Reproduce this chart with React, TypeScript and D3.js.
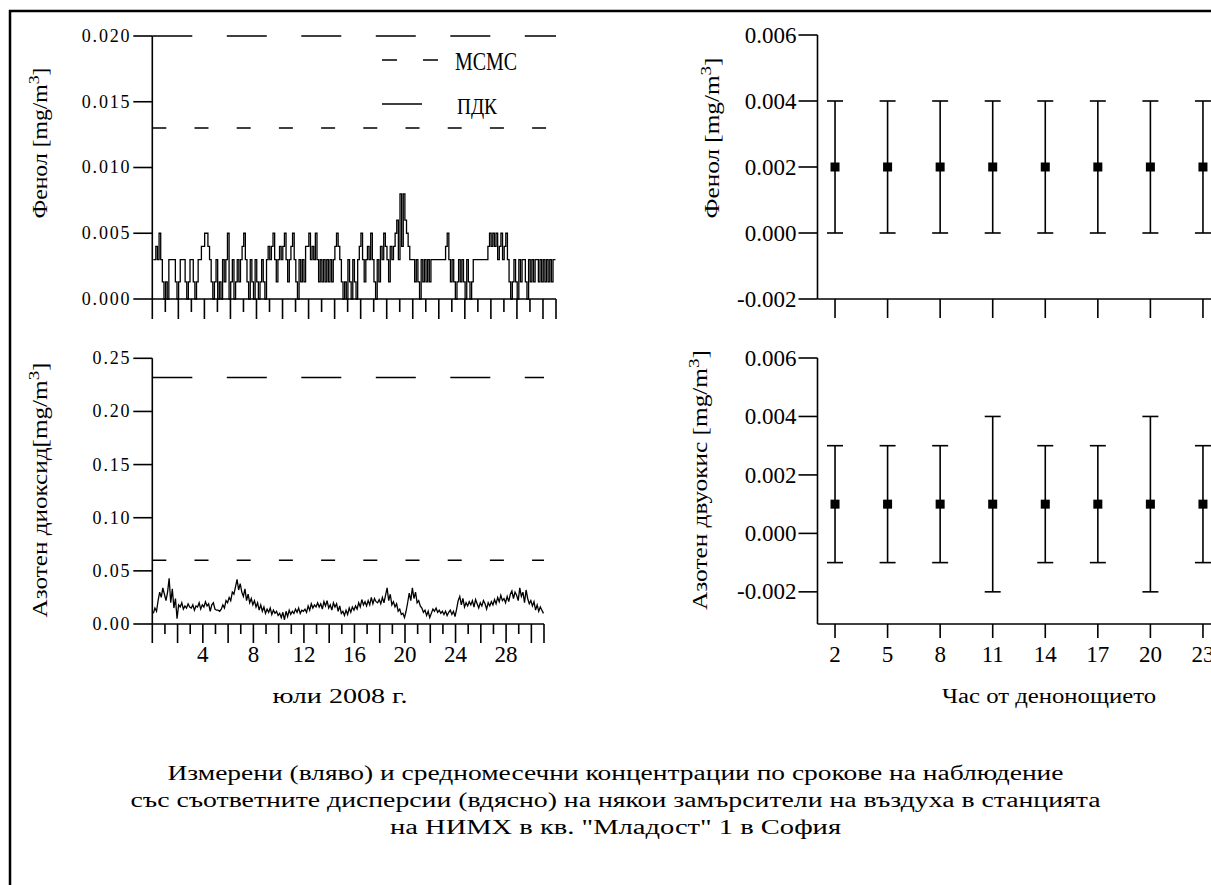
import React from 'react';
import * as d3 from 'd3';

// сроковете на наблюдение (часове)
const obsHours = [2, 5, 8, 11, 14, 17, 20, 23];

// Фенол, юли 2008, mg/m3 - по ред на ден, 8 срока
const phenolJuly = [
  [0.003, 0.003, 0.004, 0.003, 0.005, 0.003, 0.0013, 0],
  [0.0013, 0, 0.003, 0.003, 0.003, 0.003, 0.0013, 0],
  [0.0013, 0.003, 0.003, 0.003, 0.0013, 0, 0.0013, 0.003],
  [0.003, 0.0013, 0, 0.0013, 0.003, 0.003, 0.004, 0.004],
  [0.005, 0.005, 0.004, 0.003, 0.0013, 0, 0.0013, 0.003],
  [0, 0.0013, 0, 0.003, 0.0013, 0.003, 0.005, 0],
  [0.0013, 0.003, 0, 0.0013, 0.003, 0.0013, 0.003, 0.004],
  [0.005, 0.003, 0.0013, 0, 0.003, 0.0013, 0, 0.003],
  [0.0013, 0, 0.0013, 0.003, 0.0013, 0, 0.003, 0.004],
  [0.003, 0.004, 0.005, 0.003, 0.0013, 0.003, 0.004, 0.003],
  [0.004, 0.005, 0.003, 0.0013, 0.003, 0.004, 0.005, 0.003],
  [0.0013, 0, 0.003, 0.0013, 0.003, 0.0013, 0.004, 0.004],
  [0.005, 0.003, 0.004, 0.003, 0.005, 0.003, 0.0013, 0.003],
  [0.0013, 0.003, 0.0013, 0.003, 0.0013, 0.003, 0.0013, 0.003],
  [0.004, 0.005, 0.004, 0.003, 0.0013, 0, 0.0013, 0],
  [0.003, 0.0013, 0, 0.003, 0.0013, 0, 0.003, 0.004],
  [0.005, 0.003, 0.0013, 0.003, 0.004, 0.003, 0.005, 0.003],
  [0.0013, 0, 0.003, 0.0013, 0.004, 0.003, 0.005, 0.004],
  [0.003, 0.0013, 0.004, 0.003, 0.004, 0.005, 0.006, 0.003],
  [0.008, 0.004, 0.008, 0.006, 0.005, 0.004, 0.003, 0.003],
  [0.003, 0.0013, 0.003, 0.0013, 0, 0.003, 0.0013, 0.003],
  [0.0013, 0.003, 0.0013, 0.003, 0.003, 0.003, 0.003, 0.003],
  [0.003, 0.003, 0.003, 0.003, 0.004, 0.005, 0.003, 0.0013],
  [0.003, 0.0013, 0, 0.0013, 0.003, 0.0013, 0.003, 0.0013],
  [0, 0.003, 0.0013, 0, 0.0013, 0.003, 0.003, 0.003],
  [0.003, 0.003, 0.003, 0.003, 0.003, 0.003, 0.004, 0.005],
  [0.004, 0.005, 0.004, 0.005, 0.003, 0.004, 0.005, 0.003],
  [0.004, 0.005, 0.003, 0.0013, 0, 0.0013, 0.003, 0.0013],
  [0, 0.003, 0.0013, 0.003, 0.003, 0.0013, 0, 0.003],
  [0.0013, 0.003, 0.0013, 0.003, 0.003, 0.0013, 0.003, 0.0013],
  [0.003, 0.0013, 0.003, 0.0013, 0.003, 0.0013, 0.003, 0.003],
];

// Азотен диоксид, юли 2008, mg/m3
const no2July = [
  [0.010, 0.015, 0.012, 0.022, 0.030, 0.025, 0.034, 0.028],
  [0.022, 0.030, 0.043, 0.020, 0.033, 0.015, 0.024, 0.005],
  [0.018, 0.016, 0.020, 0.014, 0.017, 0.015, 0.019, 0.016],
  [0.015, 0.018, 0.013, 0.017, 0.016, 0.020, 0.014, 0.018],
  [0.016, 0.021, 0.017, 0.019, 0.012, 0.018, 0.020, 0.014],
  [0.013, 0.013, 0.012, 0.014, 0.018, 0.015, 0.022, 0.020],
  [0.025, 0.022, 0.030, 0.028, 0.035, 0.042, 0.032, 0.038],
  [0.030, 0.026, 0.033, 0.022, 0.028, 0.020, 0.024, 0.018],
  [0.022, 0.016, 0.020, 0.013, 0.018, 0.012, 0.016, 0.010],
  [0.014, 0.011, 0.015, 0.009, 0.013, 0.010, 0.012, 0.008],
  [0.010, 0.006, 0.011, 0.004, 0.012, 0.007, 0.013, 0.009],
  [0.012, 0.010, 0.014, 0.011, 0.015, 0.010, 0.013, 0.012],
  [0.014, 0.011, 0.017, 0.013, 0.019, 0.015, 0.018, 0.016],
  [0.020, 0.016, 0.019, 0.014, 0.021, 0.017, 0.022, 0.015],
  [0.018, 0.013, 0.020, 0.016, 0.019, 0.012, 0.017, 0.010],
  [0.012, 0.008, 0.013, 0.009, 0.015, 0.011, 0.016, 0.013],
  [0.017, 0.014, 0.020, 0.016, 0.023, 0.018, 0.021, 0.017],
  [0.022, 0.018, 0.025, 0.019, 0.024, 0.021, 0.020, 0.023],
  [0.019, 0.025, 0.020, 0.027, 0.034, 0.022, 0.028, 0.018],
  [0.021, 0.016, 0.019, 0.012, 0.014, 0.009, 0.010, 0.006],
  [0.012, 0.020, 0.029, 0.022, 0.034, 0.024, 0.030, 0.020],
  [0.022, 0.017, 0.015, 0.011, 0.013, 0.008, 0.012, 0.006],
  [0.010, 0.014, 0.012, 0.015, 0.011, 0.013, 0.010, 0.012],
  [0.009, 0.012, 0.008, 0.011, 0.013, 0.009, 0.012, 0.007],
  [0.014, 0.022, 0.026, 0.018, 0.024, 0.016, 0.020, 0.017],
  [0.021, 0.018, 0.022, 0.016, 0.023, 0.019, 0.015, 0.020],
  [0.017, 0.022, 0.019, 0.014, 0.020, 0.017, 0.021, 0.018],
  [0.023, 0.019, 0.025, 0.021, 0.027, 0.022, 0.024, 0.020],
  [0.026, 0.021, 0.028, 0.031, 0.024, 0.030, 0.027, 0.022],
  [0.034, 0.026, 0.030, 0.020, 0.032, 0.024, 0.019, 0.022],
  [0.017, 0.021, 0.013, 0.018, 0.012, 0.016, 0.013, 0.010],
];

// средномесечни по срокове и граници на дисперсията
const phenolMean = [0.002, 0.002, 0.002, 0.002, 0.002, 0.002, 0.002, 0.002];
const phenolLow = [0, 0, 0, 0, 0, 0, 0, 0];
const phenolHigh = [0.004, 0.004, 0.004, 0.004, 0.004, 0.004, 0.004, 0.004];
const no2Mean = [0.001, 0.001, 0.001, 0.001, 0.001, 0.001, 0.001, 0.001];
const no2Low = [-0.001, -0.001, -0.001, -0.002, -0.001, -0.001, -0.002, -0.001];
const no2High = [0.003, 0.003, 0.003, 0.004, 0.003, 0.003, 0.004, 0.003];

// норми
const phenolMcmc = 0.013;
const phenolPdk = 0.02;
const no2Mcmc = 0.06;
const no2Pdk = 0.232;

const phenolTicks = [0, 0.005, 0.01, 0.015, 0.02];
const no2Ticks = [0, 0.05, 0.1, 0.15, 0.2, 0.25];
const meanTicks = [-0.002, 0, 0.002, 0.004, 0.006];
const dayTicks = d3.range(0, 32);
const dayLabels = [4, 8, 12, 16, 20, 24, 28];

const captionLines = [
  'Измерени (вляво) и средномесечни концентрации по срокове на наблюдение',
  'със съответните дисперсии (вдясно) на някои замърсители на въздуха в станцията',
  'на НИМХ в кв. "Младост" 1 в София',
];

const FONT = '"Liberation Serif", "Times New Roman", serif';
const fmt = (f: string) => (v: number) => d3.format(f)(v).replace('\u2212', '-');

const dayPos = (i: number) => Math.floor(i / 8) + obsHours[i % 8] / 24;

const YTitle = ({ x, y, len, label }: { x: number; y: number; len: number; label: string }) => (
  <text
    transform={`translate(${x},${y}) rotate(-90)`}
    textAnchor="middle"
    fontFamily={FONT}
    fontSize={20}
    textLength={len}
    lengthAdjust="spacingAndGlyphs"
  >
    {label}
    <tspan>[mg/m</tspan>
    <tspan dy={-8} fontSize={15}>3</tspan>
    <tspan dy={8}>]</tspan>
  </text>
);

export default function App() {
  const xTL = d3.scaleLinear().domain([0, 31]).range([152.3, 556]);
  const yTL = d3.scaleLinear().domain([0, 0.02]).range([299, 36]);
  const xBL = d3.scaleLinear().domain([0, 31]).range([152.3, 544]);
  const yBL = d3.scaleLinear().domain([0, 0.25]).range([624, 358.3]);
  const xR = d3.scaleLinear().domain([1, 25]).range([817.5, 1238]);
  const yTR = d3.scaleLinear().domain([-0.002, 0.006]).range([299, 35]);
  const yBR = d3.scaleLinear().domain([-0.0031, 0.006]).range([624, 358]);

  const phenolFlat = phenolJuly.flat();
  const no2Flat = no2July.flat();

  // фенолът е стъпаловиден (дискретни нива)
  const lineTL = d3.line<number>().x((d, i) => xTL(dayPos(i))).y(d => yTL(d)).curve(d3.curveStep);
  const lineBL = d3.line<number>().x((d, i) => xBL(dayPos(i))).y(d => yBL(d));

  const stroke = '#000';

  const yAxis = (x: number, scale: any, ticks: number[], f: (v: number) => string, fs: number, ls: number) => (
    <g>
      <line x1={x} x2={x} y1={scale.range()[1]} y2={scale.range()[0]} stroke={stroke} strokeWidth={1.6} />
      {ticks.map(t => (
        <g key={t}>
          <line x1={x - 19} x2={x} y1={scale(t)} y2={scale(t)} stroke={stroke} strokeWidth={1.6} />
          <text x={x - 21} y={scale(t) + fs * 0.33} textAnchor="end" fontFamily={FONT} fontSize={fs} letterSpacing={ls}>
            {f(t)}
          </text>
        </g>
      ))}
    </g>
  );

  const dayAxis = (scale: any, y: number, longLen: number, shortLen: number, labels: boolean) => (
    <g>
      <line x1={scale.range()[0]} x2={scale.range()[1]} y1={y} y2={y} stroke={stroke} strokeWidth={1.6} />
      {dayTicks.map(d => (
        <line
          key={d}
          x1={scale(d)}
          x2={scale(d)}
          y1={y}
          y2={y + (d % 2 === 0 || d === 31 ? longLen : shortLen)}
          stroke={stroke}
          strokeWidth={1.6}
        />
      ))}
      {labels &&
        dayLabels.map(d => (
          <text key={d} x={scale(d)} y={662} textAnchor="middle" fontFamily={FONT} fontSize={23}>
            {d}
          </text>
        ))}
    </g>
  );

  const limitLines = (scale: any, yScale: any, mcmc: number, pdk: number) => (
    <g>
      <line x1={scale.range()[0]} x2={scale.range()[1]} y1={yScale(mcmc)} y2={yScale(mcmc)} stroke={stroke} strokeWidth={1.6} strokeDasharray="14 28.2" />
      <line x1={scale.range()[0]} x2={scale.range()[1]} y1={yScale(pdk)} y2={yScale(pdk)} stroke={stroke} strokeWidth={1.6} strokeDasharray="40 34.5" />
    </g>
  );

  const errorBars = (yScale: any, mean: number[], low: number[], high: number[]) => (
    <g>
      {obsHours.map((h, i) => (
        <g key={h}>
          <line x1={xR(h)} x2={xR(h)} y1={yScale(low[i])} y2={yScale(high[i])} stroke={stroke} strokeWidth={1.6} />
          <line x1={xR(h) - 8} x2={xR(h) + 8} y1={yScale(low[i])} y2={yScale(low[i])} stroke={stroke} strokeWidth={1.6} />
          <line x1={xR(h) - 8} x2={xR(h) + 8} y1={yScale(high[i])} y2={yScale(high[i])} stroke={stroke} strokeWidth={1.6} />
          <rect x={xR(h) - 4.5} y={yScale(mean[i]) - 4.5} width={9} height={9} fill={stroke} />
        </g>
      ))}
    </g>
  );

  const hourAxis = (y: number, len: number, labels: boolean) => (
    <g>
      <line x1={xR.range()[0]} x2={1211} y1={y} y2={y} stroke={stroke} strokeWidth={1.6} />
      {obsHours.map(h => (
        <line key={h} x1={xR(h)} x2={xR(h)} y1={y} y2={y + len} stroke={stroke} strokeWidth={1.6} />
      ))}
      {labels &&
        obsHours.map(h => (
          <text key={h} x={xR(h)} y={662} textAnchor="middle" fontFamily={FONT} fontSize={23}>
            {h}
          </text>
        ))}
    </g>
  );

  return (
    <svg width={1211} height={885} style={{ position: 'absolute', left: 0, top: 0, background: '#fff' }}>
      <rect x={10} y={11} width={1400} height={1000} fill="none" stroke={stroke} strokeWidth={2.5} />

      {/* горе вляво - фенол */}
      {limitLines(xTL, yTL, phenolMcmc, phenolPdk)}
      <path d={lineTL(phenolFlat) || ''} fill="none" stroke={stroke} strokeWidth={1.3} />
      {yAxis(152.3, yTL, phenolTicks, fmt('.3f'), 18, 1.8)}
      {dayAxis(xTL, 299, 20, 13, false)}
      <YTitle x={47} y={143} len={151} label="Фенол " />
      <line x1={382} x2={438} y1={60} y2={60} stroke={stroke} strokeWidth={1.6} strokeDasharray="15 26" />
      <text x={455} y={70} fontFamily={FONT} fontSize={26} textLength={62} lengthAdjust="spacingAndGlyphs">МСМС</text>
      <line x1={382} x2={422} y1={104} y2={104} stroke={stroke} strokeWidth={1.6} />
      <text x={457} y={114} fontFamily={FONT} fontSize={24} textLength={40} lengthAdjust="spacingAndGlyphs">ПДК</text>

      {/* долу вляво - азотен диоксид */}
      {limitLines(xBL, yBL, no2Mcmc, no2Pdk)}
      <path d={lineBL(no2Flat) || ''} fill="none" stroke={stroke} strokeWidth={1.3} />
      {yAxis(152.3, yBL, no2Ticks, fmt('.2f'), 18, 1.8)}
      {dayAxis(xBL, 624, 19, 10, true)}
      <YTitle x={47} y={490} len={255} label="Азотен диоксид" />
      <text x={340} y={703} textAnchor="middle" fontFamily={FONT} fontSize={20} textLength={135} lengthAdjust="spacingAndGlyphs">
        юли 2008 г.
      </text>

      {/* горе вдясно */}
      {errorBars(yTR, phenolMean, phenolLow, phenolHigh)}
      {yAxis(817.5, yTR, meanTicks, fmt('.3f'), 23, 0)}
      {hourAxis(299, 19, false)}
      <YTitle x={719} y={138} len={161} label="Фенол " />

      {/* долу вдясно */}
      {errorBars(yBR, no2Mean, no2Low, no2High)}
      {yAxis(817.5, yBR, meanTicks, fmt('.3f'), 23, 0)}
      {hourAxis(624, 14, true)}
      <YTitle x={707} y={480} len={260} label="Азотен двуокис " />
      <text x={1049} y={703} textAnchor="middle" fontFamily={FONT} fontSize={20} textLength={214} lengthAdjust="spacingAndGlyphs">
        Час от денонощието
      </text>

      {captionLines.map((l, i) => (
        <text
          key={i}
          x={615.5}
          y={780 + i * 27}
          textAnchor="middle"
          fontFamily={FONT}
          fontSize={20}
          textLength={[896, 970, 451][i]}
          lengthAdjust="spacingAndGlyphs"
        >
          {l}
        </text>
      ))}
    </svg>
  );
}
